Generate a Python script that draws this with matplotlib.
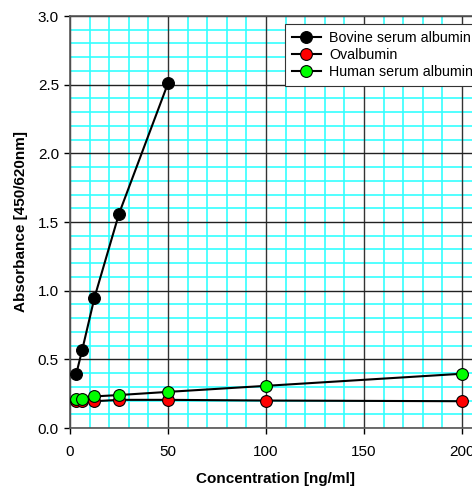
import matplotlib
matplotlib.use("Agg")
import matplotlib.pyplot as plt
from matplotlib.ticker import MultipleLocator

plt.rcParams['font.family'] = ['Liberation Sans', 'DejaVu Sans']

# Concentrations (ng/ml) and absorbance readings
conc = [3.125, 6.25, 12.5, 25, 50, 100, 200]
bsa_conc = [3.125, 6.25, 12.5, 25, 50]
bsa = [0.39, 0.57, 0.95, 1.56, 2.51]
ovalbumin = [0.20, 0.195, 0.195, 0.205, 0.205, 0.200, 0.195]
hsa = [0.21, 0.21, 0.23, 0.24, 0.263, 0.307, 0.395]

fig = plt.figure(figsize=(4.72, 4.86), dpi=100)
# axes runs past the right edge of the figure, like the cropped original
ax = fig.add_axes([70/472, 58/486, 0.872, 412/486])

style = dict(linestyle='-', color='black', linewidth=1.5, markersize=8.5,
             markeredgecolor='black', markeredgewidth=0.8, clip_on=False)
ax.plot(bsa_conc, bsa, marker='o', markerfacecolor='black', label='Bovine serum albumin', zorder=5, **style)
ax.plot(conc, ovalbumin, marker='o', markerfacecolor='#ff0000', label='Ovalbumin', zorder=4, **style)
ax.plot(conc, hsa, marker='o', markerfacecolor='#00ff00', label='Human serum albumin', zorder=6, **style)

ax.set_xlim(0, 210)
ax.set_ylim(0, 3.0)
ax.xaxis.set_major_locator(MultipleLocator(50))
ax.xaxis.set_minor_locator(MultipleLocator(10))
ax.yaxis.set_major_locator(MultipleLocator(0.5))
ax.yaxis.set_minor_locator(MultipleLocator(0.1))
ax.yaxis.set_major_formatter(lambda v, p: f"{v:.1f}")

# cyan minor grid underneath, dark major grid drawn on top of it
ax.grid(which='minor', color='#33ffff', linewidth=1.2, zorder=0)
ax.set_axisbelow(True)
for xv in ax.get_xticks():
    ax.axvline(xv, color='#333333', linewidth=1.0, zorder=1)
for yv in ax.get_yticks():
    ax.axhline(yv, color='#222222', linewidth=1.0, zorder=1)

ax.tick_params(which='major', direction='out', length=4, width=1, labelsize=11)
ax.tick_params(axis='x', pad=8)
ax.tick_params(axis='y', pad=4)
ax.tick_params(which='minor', length=0)
for s in ax.spines.values():
    s.set_color('#555555')
    s.set_linewidth(1.2)
    s.set_zorder(2)

ax.set_xlabel('Concentration [ng/ml]', fontsize=11, fontweight='bold', labelpad=9.5)
ax.set_ylabel('Absorbance [450/620nm]', fontsize=11, fontweight='bold', labelpad=7)

leg = ax.legend(loc='upper left', bbox_to_anchor=(285/472, 1 - 24/486),
                bbox_transform=fig.transFigure, borderaxespad=0, fontsize=10.3,
                handlelength=2.0, handletextpad=0.6, labelspacing=0.2,
                borderpad=0.5, fancybox=False, framealpha=1, edgecolor='#333333')
leg.get_frame().set_linewidth(0.8)
leg.set_zorder(10)

fig.savefig('out.png', dpi=100)
